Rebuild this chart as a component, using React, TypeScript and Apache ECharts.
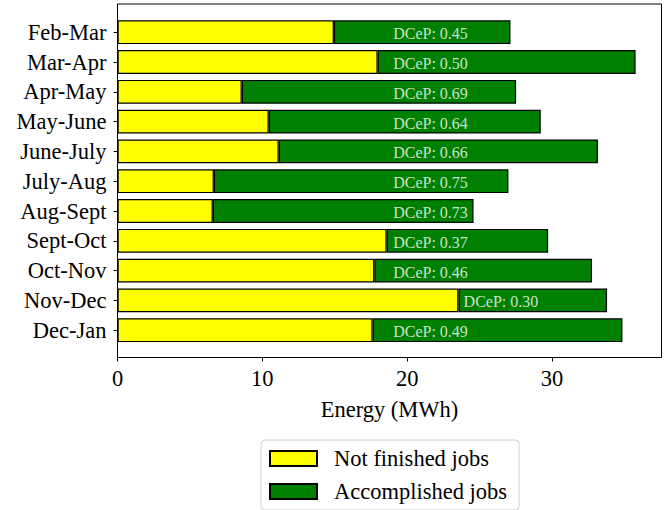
import React, { useEffect, useRef } from "react";
import * as echarts from "echarts";

const categories = [
  "Feb-Mar", "Mar-Apr", "Apr-May", "May-June", "June-July", "July-Aug",
  "Aug-Sept", "Sept-Oct", "Oct-Nov", "Nov-Dec", "Dec-Jan",
];
const notFinished = [14.94, 17.96, 8.58, 10.44, 11.13, 6.65, 6.58, 18.58, 17.73, 23.54, 17.61];
const accomplished = [12.19, 17.81, 18.94, 18.78, 22.04, 20.34, 18.0, 11.15, 15.03, 10.26, 17.25];
const dcep = ["0.45", "0.50", "0.69", "0.64", "0.66", "0.75", "0.73", "0.37", "0.46", "0.30", "0.49"];
const xTicks = [0, 10, 20, 30];
const seriesNames = ["Not finished jobs", "Accomplished jobs"];

const FONT = "Liberation Serif";
const FS = 22.5;

export default function App() {
  const ref = useRef<HTMLDivElement>(null);
  useEffect(() => {
    if (!ref.current) return;
    const chart = echarts.init(ref.current, undefined, { renderer: "svg" });
    const totals = notFinished.map((v, i) => v + accomplished[i]);
    const xMax = Math.max(...totals) * 1.05;
    const labelStart = notFinished.map((v) => Math.max(19, v + 0.32));
    chart.setOption({
      animation: false,
      textStyle: { fontFamily: FONT },
      grid: [
        { left: 117.5, right: 5.5, top: 4, bottom: 152.5, show: true, borderColor: "#000", borderWidth: 1, outerBoundsMode: "none", containLabel: false },
        { left: 117.5, right: 5.5, top: 17.3, bottom: 164.9, outerBoundsMode: "none", containLabel: false },
      ],
      xAxis: [
        {
          gridIndex: 0, type: "value", min: 0, max: xMax,
          axisLine: { show: false },
          axisTick: { show: true, length: 4, lineStyle: { color: "#000" }, customValues: xTicks },
          axisLabel: { fontSize: FS, color: "#000", fontFamily: FONT, margin: 9, customValues: xTicks },
          splitLine: { show: false },
          name: "Energy (MWh)", nameLocation: "middle", nameGap: 40,
          nameTextStyle: { fontSize: FS, color: "#000", fontFamily: FONT },
        },
        { gridIndex: 1, type: "value", min: 0, max: xMax, show: false },
      ],
      yAxis: [
        { gridIndex: 0, type: "value", min: 0, max: 1, show: false },
        {
          gridIndex: 1, type: "category", data: categories, inverse: true,
          axisLine: { show: false },
          axisTick: { show: true, interval: 0, alignWithLabel: true, length: 4, lineStyle: { color: "#000" } },
          axisLabel: { interval: 0, hideOverlap: false, fontSize: FS, color: "#000", fontFamily: FONT, margin: 11 },
          splitLine: { show: false },
        },
      ],
      legend: {
        data: seriesNames,
        orient: "vertical",
        left: 261, top: 440,
        padding: [7, 12, 7, 8],
        itemWidth: 47, itemHeight: 15, itemGap: 10,
        borderColor: "#d0d0d0", borderWidth: 1, borderRadius: 4,
        backgroundColor: "#fff",
        icon: "rect",
        textStyle: { fontSize: FS, color: "#000", fontFamily: FONT, lineHeight: 22, padding: [0, 0, 0, 12] },
      },
      series: [
        {
          name: seriesNames[0], type: "bar", stack: "e", xAxisIndex: 1, yAxisIndex: 1,
          barWidth: "80%", data: notFinished,
          itemStyle: { color: "#ffff00", borderColor: "#000", borderWidth: 1.2 },
        },
        {
          name: seriesNames[1], type: "bar", stack: "e", xAxisIndex: 1, yAxisIndex: 1,
          barWidth: "80%", data: accomplished,
          itemStyle: { color: "#008000", borderColor: "#000", borderWidth: 1.2 },
        },
        {
          name: "labels", type: "scatter", xAxisIndex: 1, yAxisIndex: 1, silent: true, z: 5,
          symbolSize: 1, itemStyle: { color: "rgba(0,0,0,0)" },
          data: labelStart.map((x, i) => [x, i]),
          label: {
            show: true, position: "right", distance: 0, offset: [0, 1.5],
            formatter: (p: any) => "DCeP: " + dcep[p.dataIndex],
            color: "#fff", fontSize: 16, fontFamily: FONT,
          },
        },
      ],
    });
    return () => chart.dispose();
  }, []);
  return <div ref={ref} style={{ width: 667, height: 510, position: "absolute", left: 0, top: 0 }} />;
}
